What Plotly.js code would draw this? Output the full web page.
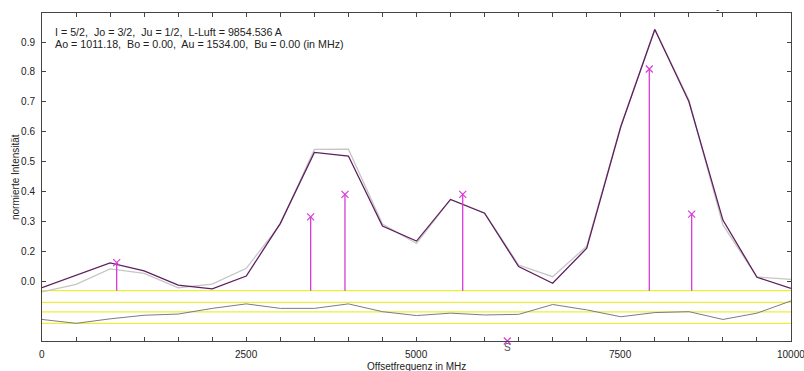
<!DOCTYPE html>
<html>
<head>
<meta charset="utf-8">
<script src="https://cdn.plot.ly/plotly-3.0.1.min.js"></script>
<style>html,body{margin:0;padding:0;background:#fff;}#chart{width:804px;height:371px;}</style>
</head>
<body>
<div id="chart"></div>
<script>
// Frequency grid (MHz) of the profile points: 23 points from 0 to 10000
const freqGrid = [0,454.5,909.1,1363.6,1818.2,2272.7,2727.3,3181.8,3636.4,4090.9,4545.5,5000,5454.5,5909.1,6363.6,6818.2,7272.7,7727.3,8181.8,8636.4,9090.9,9545.5,10000];
// calculated profile (dark purple)
const fitProfile = [0.079,0.120,0.162,0.135,0.088,0.075,0.118,0.294,0.531,0.519,0.285,0.235,0.374,0.328,0.150,0.094,0.211,0.617,0.942,0.701,0.305,0.114,0.077];
// measured profile (light gray)
const measProfile = [0.065,0.090,0.142,0.127,0.079,0.091,0.144,0.291,0.541,0.542,0.292,0.227,0.374,0.329,0.155,0.116,0.218,0.619,0.943,0.706,0.289,0.115,0.107];
// residual (lower panel)
const residual = [-0.027,-0.040,-0.025,-0.013,-0.009,0.010,0.025,0.010,0.010,0.025,-0.001,-0.014,-0.006,-0.012,-0.010,0.023,0.005,-0.018,-0.004,-0.001,-0.027,-0.006,0.035];
// hyperfine components
const lineFreq = [997,3587,4045,5617,8108,8674];
const lineInt = [0.163,0.316,0.391,0.391,0.810,0.325];
const lineBase = 0.069;
// yellow reference levels of lower panel
const refLevels = [0.069,0.030,-0.002,-0.040];
// centre-of-gravity marker
const sMarkerX = [6212];
const sMarkerLabel = ["S"];
// axis ticks
const xTickLabelIdx = [0,6,11,17,22];
const xTickLabels = ["0","2500","5000","7500","10000"];
const yTickVals = [0.1,0.2,0.3,0.4,0.5,0.6,0.7,0.8,0.9];
const yTickText = ["0.0","0.2","0.3","0.4","0.5","0.6","0.7","0.8","0.9"];

const FONT = "Arial, 'Liberation Sans', sans-serif";
const yMin = -0.099, yMax = 0.997;

const traces = [];
refLevels.forEach(v => {
  traces.push({x:[0,10000], y:[v,v], mode:'lines', line:{color:'#eeee3a', width:1.3}, hoverinfo:'skip', showlegend:false});
});
traces.push({x:freqGrid, y:residual, mode:'lines', line:{color:'#7c7c84', width:1}, showlegend:false});
traces.push({x:freqGrid, y:measProfile, mode:'lines', line:{color:'#c6c6c6', width:1.3}, showlegend:false});
traces.push({x:freqGrid, y:fitProfile, mode:'lines', line:{color:'#5e1f5e', width:1.3}, showlegend:false});
const sx = [], sy = [];
lineFreq.forEach((f,i) => { sx.push(f,f,null); sy.push(lineBase,lineInt[i],null); });
traces.push({x:sx, y:sy, mode:'lines', line:{color:'#d63cd6', width:1.3}, showlegend:false});
traces.push({x:lineFreq, y:lineInt, mode:'markers', marker:{symbol:'x-thin', size:7, line:{color:'#d63cd6', width:1.2}}, showlegend:false});
traces.push({x:sMarkerX, y:[yMin], mode:'markers', marker:{symbol:'x-thin', size:7, line:{color:'#d63cd6', width:1.2}}, cliponaxis:false, showlegend:false});

const tickX = freqGrid;
const annotations = [];
xTickLabelIdx.forEach((idx,k) => {
  annotations.push({x:tickX[idx], y:0, xref:'x', yref:'paper', yanchor:'middle', xanchor:'center', yshift:-13, showarrow:false, text:xTickLabels[k], font:{family:FONT, size:10, color:'#222'}});
});
annotations.push({x:0.5, y:0, xref:'paper', yref:'paper', yanchor:'middle', xanchor:'center', yshift:-25, showarrow:false, text:'Offsetfrequenz in MHz', font:{family:FONT, size:10, color:'#222'}});
annotations.push({x:0, y:0.5, xref:'paper', yref:'paper', xanchor:'center', yanchor:'middle', xshift:-27, textangle:-90, showarrow:false, text:'normierte Intensität', font:{family:FONT, size:10, color:'#222'}});
annotations.push({x:0.0148, y:0.942, xref:'paper', yref:'paper', xanchor:'left', yanchor:'middle', showarrow:false, text:'I = 5/2,&nbsp; Jo = 3/2,&nbsp; Ju = 1/2,&nbsp; L-Luft = 9854.536 A', font:{family:FONT, size:10.7, color:'#222'}});
annotations.push({x:0.0148, y:0.907, xref:'paper', yref:'paper', xanchor:'left', yanchor:'middle', showarrow:false, text:'Ao = 1011.18,&nbsp; Bo = 0.00,&nbsp; Au = 1534.00,&nbsp; Bu = 0.00 (in MHz)', font:{family:FONT, size:10.7, color:'#222'}});
sMarkerX.forEach((x,i) => {
  annotations.push({x:x, y:0, xref:'x', yref:'paper', yanchor:'middle', xanchor:'center', yshift:-6, showarrow:false, text:sMarkerLabel[i], font:{family:FONT, size:10, color:'#555'}});
});
annotations.push({x:0.902, y:1.012, xref:'paper', yref:'paper', xanchor:'center', yanchor:'middle', showarrow:false, text:'-', font:{family:FONT, size:10, color:'#333'}});

const layout = {
  width:804, height:371,
  margin:{l:42, r:13, t:13, b:30, pad:0},
  paper_bgcolor:'#fff', plot_bgcolor:'#fff',
  showlegend:false,
  xaxis:{range:[0,10000], tickmode:'array', tickvals:tickX, showticklabels:false, ticks:'inside', ticklen:4, tickcolor:'#444', mirror:'ticks', showline:true, linecolor:'#444', linewidth:1, showgrid:false, zeroline:false},
  yaxis:{range:[yMin,yMax], tickmode:'array', tickvals:yTickVals, ticktext:yTickText, ticks:'inside', ticklen:4, tickcolor:'#444', mirror:'ticks', showline:true, linecolor:'#444', linewidth:1, showgrid:false, zeroline:false, ticklabelstandoff:4, tickfont:{family:FONT, size:10, color:'#222'}},
  annotations:annotations
};
Plotly.newPlot('chart', traces, layout, {staticPlot:true, displayModeBar:false});
</script>
</body>
</html>
